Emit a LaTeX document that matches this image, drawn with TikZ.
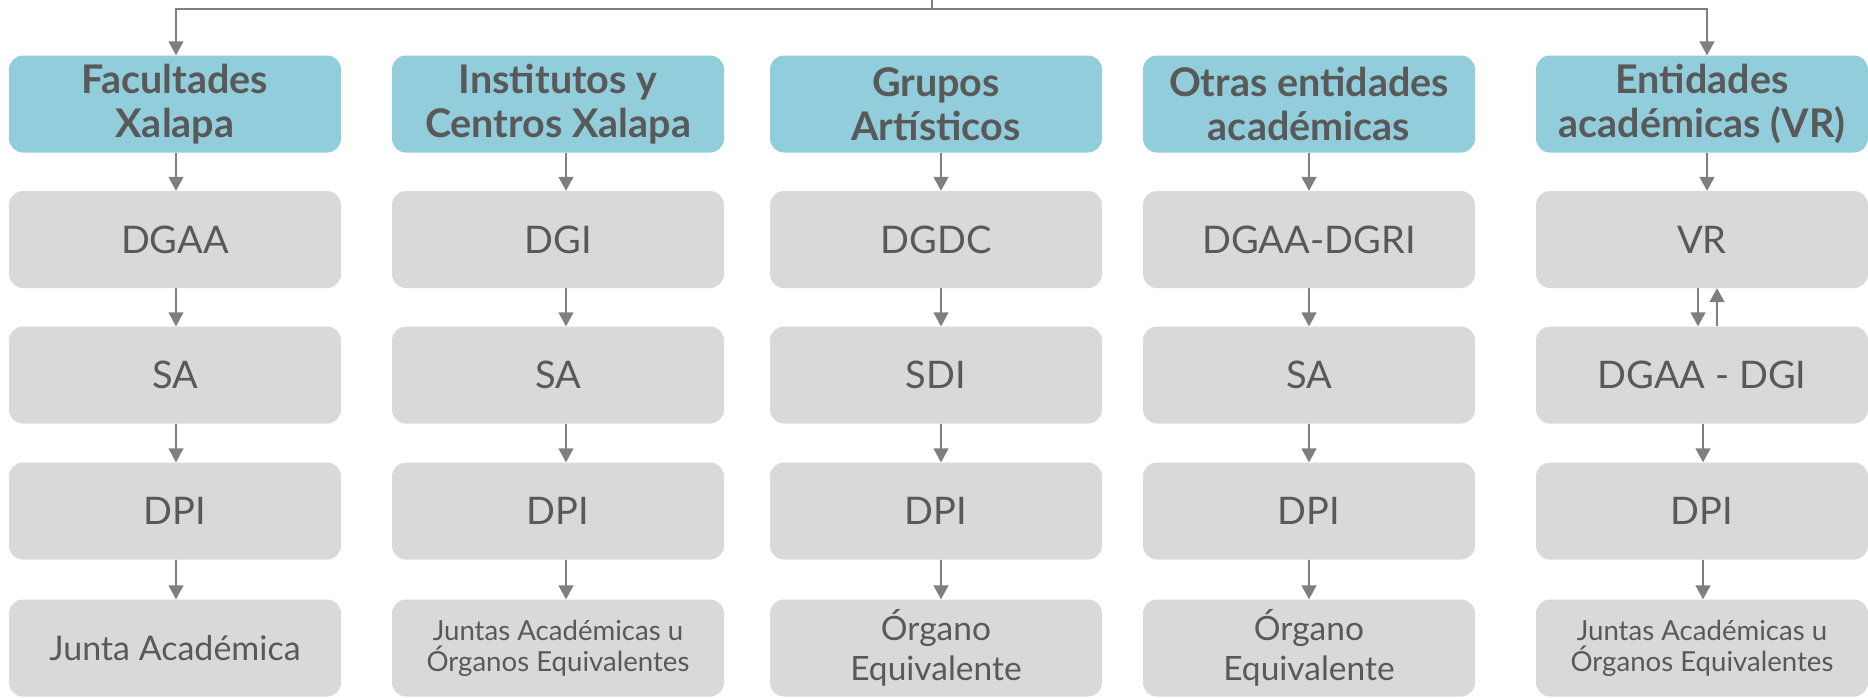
\documentclass[tikz,border=0pt]{standalone}
\usepackage{fontspec}
\setmainfont{Lato}
\usetikzlibrary{arrows.meta}
\definecolor{hdr}{HTML}{92CDDC}
\definecolor{bx}{HTML}{D9D9D9}
\definecolor{txt}{HTML}{595959}
\definecolor{ln}{HTML}{7F7F7F}
\begin{document}
\begin{tikzpicture}[x=1pt,y=-1pt,
 box/.style={rounded corners=14pt, minimum width=332pt, minimum height=97pt, align=center, text=txt, inner sep=0pt},
 head/.style={box, fill=hdr, font=\bfseries\fontsize{39.5}{44}\selectfont},
 cell/.style={box, fill=bx, font=\fontsize{38}{44}\selectfont},
 mid/.style={box, fill=bx, font=\fontsize{33.5}{40}\selectfont},
 small/.style={box, fill=bx, font=\fontsize{27.6}{31}\selectfont},
 arr/.style={draw=ln, line width=1.5pt, -{Triangle[width=15pt,length=14pt]}},
 plain/.style={draw=ln, line width=1.5pt}]
\useasboundingbox (0,0) rectangle (1868,697);
% headers
\node[head] (h1) at (175,104) {Facultades\\Xalapa};
\node[head] (h2) at (558,104) {Institutos y\\Centros Xalapa};
\node[head] (h3) at (936,104) {Grupos\\Artísticos};
\node[head] (h4) at (1309,104) {Otras entidades\\académicas};
\node[head] (h5) at (1702,104) {Entidades\\académicas (VR)};
% row 2
\node[cell] (a1) at (175,239.5) {DGAA};
\node[cell] (a2) at (558,239.5) {DGI};
\node[cell] (a3) at (936,239.5) {DGDC};
\node[cell] (a4) at (1309,239.5) {DGAA-DGRI};
\node[cell] (a5) at (1702,239.5) {VR};
% row 3
\node[cell] (b1) at (175,375) {SA};
\node[cell] (b2) at (558,375) {SA};
\node[cell] (b3) at (936,375) {SDI};
\node[cell] (b4) at (1309,375) {SA};
\node[cell] (b5) at (1702,375) {DGAA - DGI};
% row 4
\node[cell] (c1) at (175,511) {DPI};
\node[cell] (c2) at (558,511) {DPI};
\node[cell] (c3) at (936,511) {DPI};
\node[cell] (c4) at (1309,511) {DPI};
\node[cell] (c5) at (1702,511) {DPI};
% row 5
\node[mid, font=\fontsize{34}{40}\selectfont] (d1) at (175,648) {Junta Académica};
\node[small] (d2) at (558,648) {Juntas Académicas u\\Órganos Equivalentes};
\node[mid] (d3) at (936,648) {Órgano\\Equivalente};
\node[mid] (d4) at (1309,648) {Órgano\\Equivalente};
\node[small] (d5) at (1702,648) {Juntas Académicas u\\Órganos Equivalentes};
% top connector
\coordinate (top) at (932,0);
\coordinate (hub) at (932,9);
\draw[plain] (top) -- (hub);
\draw[arr] (hub) -| ([xshift=1pt]h1.north);
\draw[arr] (hub) -| ([xshift=5pt]h5.north);
% column arrows
\foreach \c/\dx in {1/1, 2/8, 3/5, 4/0}{
  \draw[arr] ([xshift=\dx pt]h\c.south) -- ([xshift=\dx pt]a\c.north);
  \draw[arr] ([xshift=\dx pt]a\c.south) -- ([xshift=\dx pt]b\c.north);
  \draw[arr] ([xshift=\dx pt]b\c.south) -- ([xshift=\dx pt]c\c.north);
  \draw[arr] ([xshift=\dx pt]c\c.south) -- ([xshift=\dx pt]d\c.north);
}
\draw[arr] ([xshift=5pt]h5.south) -- ([xshift=5pt]a5.north);
\draw[arr] ([xshift=-4pt]a5.south) -- ([xshift=-4pt]b5.north);
\draw[arr] ([xshift=15pt]b5.north) -- ([xshift=15pt]a5.south);
\draw[arr] ([xshift=1pt]b5.south) -- ([xshift=1pt]c5.north);
\draw[arr] ([xshift=1pt]c5.south) -- ([xshift=1pt]d5.north);
\end{tikzpicture}
\end{document}
